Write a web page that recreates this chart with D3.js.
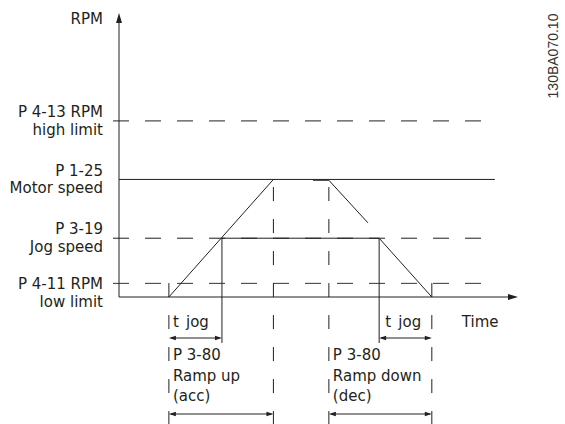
<!DOCTYPE html>
<html><head><meta charset="utf-8">
<script src="https://cdn.jsdelivr.net/npm/d3@7"></script>
<style>
html,body{margin:0;padding:0;background:#fff;}
svg{display:block;}
text{font-family:"DejaVu Sans",sans-serif;fill:#231f20;}
</style></head><body>
<svg id="c" width="565" height="424"></svg>
<script>
// ---------- data ----------
const levelKeys   = ["low", "jog", "motor", "high"];
const levelValues = [4.8, 20.7, 41.4, 62.0];
const levelLabels = [["P 4-11 RPM", "low limit"], ["P 3-19", "Jog speed"], ["P 1-25", "Motor speed"], ["P 4-13 RPM", "high limit"]];
const eventKeys   = ["start", "jogReached", "motorReached", "decelStart", "jogDecel", "stop"];
const eventTimes  = [12.5, 25.8, 38.7, 52.6, 65.2, 78.4];
const rampUpT     = [12.5, 38.7];
const rampUpV     = [0, 41.4];
const motorDecelT = [48.6, 52.6, 62.4];
const motorDecelV = [41.1, 41.1, 26.1];
const jogT        = [25.8, 65.2, 78.4];
const jogV        = [20.7, 20.7, 0];
const yAxisLabel  = "RPM";
const xAxisLabel  = "Time";
const tJogLabel   = ["t jog"];
const rampUpLabel = ["P 3-80", "Ramp up", "(acc)"];
const rampDnLabel = ["P 3-80", "Ramp down", "(dec)"];
const figureCode  = "130BA070.10";

// ---------- setup ----------
const svg = d3.select("#c");
const x = d3.scaleLinear().domain([0, 100]).range([119, 518]);
const y = d3.scaleLinear().domain([0, 100]).range([297, 13]);
const T = {}; eventKeys.forEach((k, i) => T[k] = eventTimes[i]);
const L = {}; levelKeys.forEach((k, i) => L[k] = levelValues[i]);
const ink = "#231f20";
const line = d3.line();
const FS = 15;

function seg(x1, y1, x2, y2, opts = {}) {
  return svg.append("line").attr("x1", x1).attr("y1", y1).attr("x2", x2).attr("y2", y2)
    .attr("stroke", opts.color || ink).attr("stroke-width", opts.w || 1)
    .attr("stroke-dasharray", opts.dash || null)
    .attr("stroke-dashoffset", opts.offset || 0);
}

// horizontal levels
const lineStart = x(-1.5), lineEnd = x(94.2);
levelKeys.forEach((k, i) => {
  const yy = y(levelValues[i]);
  if (k === "motor") seg(x(0), yy, lineEnd, yy);
  else seg(lineStart, yy, lineEnd, yy, {dash: "16,16", color: k === "low" ? "#333" : ink});
});

// axes
const x0 = x(0), y0 = y(0);
seg(x0, y0, x0, y(96.8));
svg.append("path").attr("d", `M${x0},${y(100)} L${x0 - 3},${y(100) + 10} L${x0 + 3},${y(100) + 10} Z`).attr("fill", ink);
seg(x0, y0, x(97.5), y0);
svg.append("path").attr("d", `M${x(100)},${y0} L${x(100) - 10},${y0 - 3} L${x(100) - 10},${y0 + 3} Z`).attr("fill", ink);

// speed profiles
const pts = (ts, vs) => ts.map((t, i) => [x(t), y(vs[i])]);
svg.append("path").attr("d", line(pts(rampUpT, rampUpV))).attr("fill", "none").attr("stroke", ink);
svg.append("path").attr("d", line(pts(motorDecelT, motorDecelV))).attr("fill", "none").attr("stroke", ink);
svg.append("path").attr("d", line(pts(jogT, jogV))).attr("fill", "none").attr("stroke", ink);

// vertical markers
const bottom = 425, phase = y(L.low) - 0.3, period = 32;
const offs = s => (((s - phase) % period) + period) % period;
["motorReached", "decelStart"].forEach(k => {
  const s = y(L.motor);
  seg(x(T[k]), s, x(T[k]), bottom, {dash: "14,18", offset: offs(s)});
});
["start", "stop"].forEach(k => {
  const s = phase;
  seg(x(T[k]), s, x(T[k]), bottom, {dash: "14,18", offset: offs(s)});
});
["jogReached", "jogDecel"].forEach(k => {
  seg(x(T[k]), y(L.jog), x(T[k]), y0 + 46);
});

// double arrows
function dArrow(a, b, yy) {
  const xa = x(a), xb = x(b);
  seg(xa + 2, yy, xb - 2, yy);
  svg.append("path").attr("d", `M${xa},${yy} L${xa + 7},${yy - 2.2} L${xa + 7},${yy + 2.2} Z`).attr("fill", ink);
  svg.append("path").attr("d", `M${xb},${yy} L${xb - 7},${yy - 2.2} L${xb - 7},${yy + 2.2} Z`).attr("fill", ink);
}
dArrow(T.start, T.jogReached, y0 + 41);
dArrow(T.jogDecel, T.stop, y0 + 41);
dArrow(T.start, T.motorReached, y0 + 117);
dArrow(T.decelStart, T.stop, y0 + 117);

// text helpers
function txt(str, tx, ty, anchor, size, family) {
  return svg.append("text").attr("x", tx).attr("y", ty).attr("text-anchor", anchor || "start")
    .style("font-size", (size || FS) + "px").style("font-family", family || null).text(str);
}

// level labels (two stacked lines each)
const labelDy = {high: [-4, 17.6], motor: [-3.8, 17.6], jog: [-3.8, 17.6], low: [6.0, 17.6]};
levelKeys.forEach((k, i) => {
  const yy = y(levelValues[i]);
  txt(levelLabels[i][0], 103, yy + labelDy[k][0], "end");
  txt(levelLabels[i][1], 103, yy + labelDy[k][0] + labelDy[k][1], "end");
});
txt(yAxisLabel, 103, 23.5, "end");
txt(xAxisLabel, x(T.stop) + 30, y0 + 29.5, "start");

// bottom annotations
txt(tJogLabel[0], x(T.start) + 4, y0 + 30, "start").style("word-spacing", "2.5px");
txt(tJogLabel[0], x(T.jogDecel) + 6, y0 + 30, "start").style("word-spacing", "2.5px");
const rowY = [y0 + 63, y0 + 83.5, y0 + 104];
rampUpLabel.forEach((s, i) => txt(s, x(T.start) + 4, rowY[i], "start"));
rampDnLabel.forEach((s, i) => txt(s, x(T.decelStart) + 4, rowY[i], "start"));

// figure code
svg.append("text").attr("transform", "translate(558,56) rotate(-90)").attr("text-anchor", "middle")
  .style("font-family", "'Liberation Sans', Arial, sans-serif").style("font-size", "14px").style("fill", "#333")
  .text(figureCode);
</script>
</body></html>
